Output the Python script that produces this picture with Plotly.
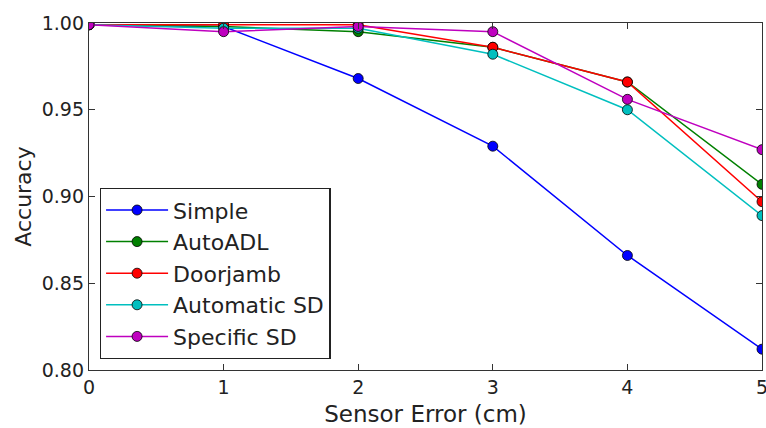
import plotly.graph_objects as go

x_vals = [0, 1, 2, 3, 4, 5]
simple = [0.999, 0.998, 0.968, 0.929, 0.866, 0.812]
autoadl = [0.999, 0.998, 0.995, 0.986, 0.966, 0.907]
doorjamb = [0.999, 0.999, 0.999, 0.986, 0.966, 0.897]
automatic_sd = [0.999, 0.997, 0.997, 0.982, 0.950, 0.889]
specific_sd = [0.999, 0.995, 0.998, 0.995, 0.956, 0.927]

series = [
    ("Simple", simple, "#0000ff"),
    ("AutoADL", autoadl, "#008000"),
    ("Doorjamb", doorjamb, "#ff0000"),
    ("Automatic SD", automatic_sd, "#00bfbf"),
    ("Specific SD", specific_sd, "#bf00bf"),
]

fig = go.Figure()
for name, vals, col in series:
    fig.add_trace(go.Scatter(
        x=x_vals, y=vals, name=name, mode="lines+markers",
        line=dict(color=col, width=1.5),
        marker=dict(color=col, size=10, line=dict(color="black", width=0.8)),
        cliponaxis=True,
    ))

font = "DejaVu Sans, sans-serif"
fig.update_layout(
    width=766, height=428,
    margin=dict(l=89, r=4, t=23, b=58, autoexpand=False),
    paper_bgcolor="white", plot_bgcolor="white",
    font=dict(family=font, size=19, color="#222"),
    showlegend=True,
    legend=dict(
        x=0.016, y=0.032, xanchor="left", yanchor="bottom",
        bordercolor="#222", borderwidth=1.3, bgcolor="white",
        font=dict(size=22, family=font, color="#222"),
        tracegroupgap=0, itemwidth=62,
    ),
    xaxis=dict(
        range=[0, 5], tickvals=x_vals, ticks="inside", ticklen=6,
        tickcolor="#333", showgrid=False, zeroline=False,
        showline=True, linecolor="#333", linewidth=1.3, mirror="ticks",
        title=dict(text="Sensor Error (cm)", font=dict(size=23, family=font), standoff=8),
        tickfont=dict(size=19), ticklabeloverflow="allow", automargin=False,
    ),
    yaxis=dict(
        range=[0.80, 1.00], tickvals=[0.80, 0.85, 0.90, 0.95, 1.00],
        tickformat=".2f", ticks="inside", ticklen=6,
        tickcolor="#333", showgrid=False, zeroline=False,
        showline=True, linecolor="#333", linewidth=1.3, mirror="ticks",
        title=dict(text="Accuracy", font=dict(size=22, family=font), standoff=4),
        tickfont=dict(size=19), automargin=False,
    ),
)

fig.write_html("out.html")
